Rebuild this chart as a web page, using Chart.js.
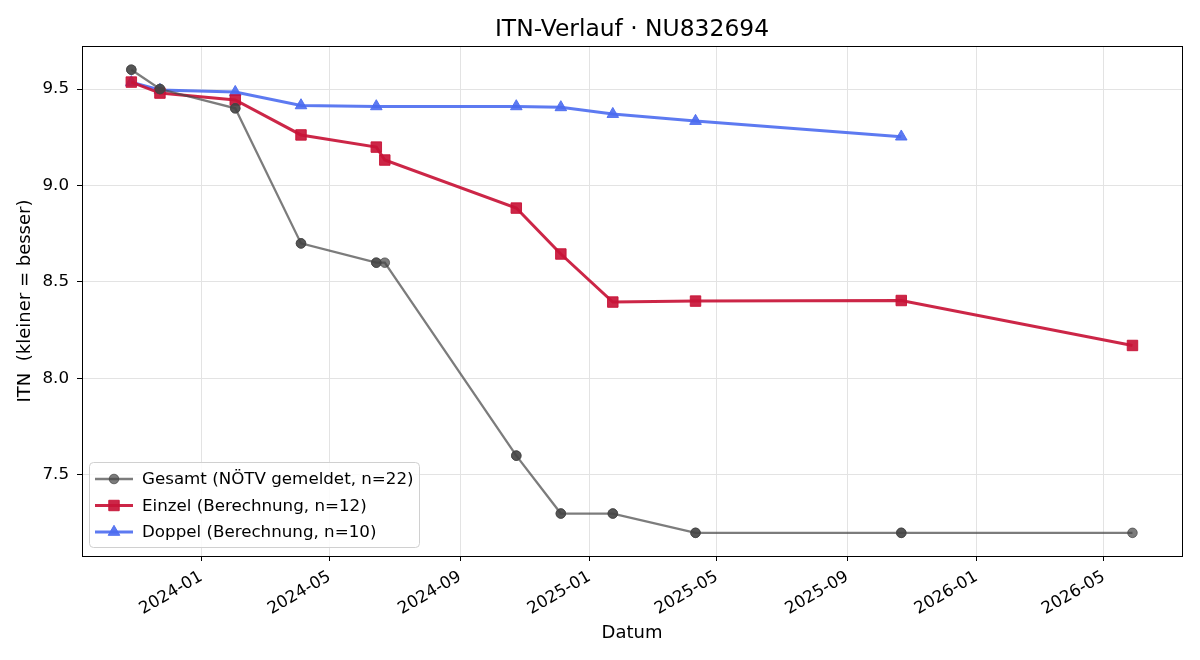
<!DOCTYPE html>
<html>
<head>
<meta charset="utf-8">
<script src="https://cdn.jsdelivr.net/npm/chart.js@4.4.1/dist/chart.umd.min.js"></script>
<style>
  html, body { margin: 0; padding: 0; background: #fff; }
</style>
</head>
<body>
<canvas id="chart" width="1200" height="660"></canvas>
<script>
// data
const gesamtDates = ['2023-10-27', '2023-10-27', '2023-11-23', '2023-11-23', '2024-02-02', '2024-02-02',
    '2024-04-04', '2024-04-04', '2024-06-14', '2024-06-14', '2024-06-22', '2024-10-24', '2024-10-24',
    '2024-12-05', '2024-12-05', '2025-01-23', '2025-01-23', '2025-04-11', '2025-04-11',
    '2025-10-22', '2025-10-22', '2026-05-28'];
const gesamtValues = [9.6, 9.6, 9.5, 9.5, 9.4, 9.4, 8.7, 8.7, 8.6, 8.6, 8.6, 7.6, 7.6,
    7.3, 7.3, 7.3, 7.3, 7.2, 7.2, 7.2, 7.2, 7.2];

const einzelDates = ['2023-10-27', '2023-11-23', '2024-02-02', '2024-04-04', '2024-06-14', '2024-06-22',
    '2024-10-24', '2024-12-05', '2025-01-23', '2025-04-11', '2025-10-22', '2026-05-28'];
const einzelValues = [9.536, 9.479, 9.443, 9.262, 9.199, 9.132, 8.883, 8.645, 8.396, 8.401, 8.404, 8.171];

const doppelDates = ['2023-10-27', '2023-11-23', '2024-02-02', '2024-04-04', '2024-06-14',
    '2024-10-24', '2024-12-05', '2025-01-23', '2025-04-11', '2025-10-22'];
const doppelValues = [9.535, 9.495, 9.484, 9.415, 9.41, 9.41, 9.405, 9.37, 9.334, 9.253];

const seriesLabels = ['Gesamt (NÖTV gemeldet, n=22)', 'Einzel (Berechnung, n=12)', 'Doppel (Berechnung, n=10)'];
const xTickLabels = ['2024-01', '2024-05', '2024-09', '2025-01', '2025-05', '2025-09', '2026-01', '2026-05'];
const yTickValues = [7.5, 8.0, 8.5, 9.0, 9.5];

const FONT = "'DejaVu Sans', sans-serif";
const BASE = Date.UTC(2024, 0, 1);

// days since 2024-01-01
const dayNum = (s) => {
    const p = s.split('-').map(Number);
    return (Date.UTC(p[0], p[1] - 1, p[2] || 1) - BASE) / 86400000;
};
const toPoints = (dates, values) => dates.map((d, i) => ({ x: dayNum(d), y: values[i] }));

const xTickPos = xTickLabels.map(l => dayNum(l));

// legend drawn inside the plot, lower left
const innerLegend = {
    id: 'innerLegend',
    afterDraw(chart) {
        const ctx = chart.ctx;
        const area = chart.chartArea;
        const x0 = area.left + 7, y0 = area.bottom - 94, w = 330, h = 85;
        ctx.save();
        ctx.fillStyle = 'rgba(255,255,255,0.85)';
        ctx.strokeStyle = '#d0d0d0';
        ctx.lineWidth = 1;
        ctx.beginPath();
        ctx.roundRect(x0 + 0.5, y0 + 0.5, w, h, 4);
        ctx.fill();
        ctx.stroke();
        ctx.font = '16.7px ' + FONT;
        ctx.textBaseline = 'middle';
        chart.data.datasets.forEach((ds, i) => {
            const cy = y0 + 17 + i * 26.5;
            ctx.strokeStyle = ds.borderColor;
            ctx.lineWidth = ds.borderWidth;
            ctx.beginPath();
            ctx.moveTo(x0 + 6, cy);
            ctx.lineTo(x0 + 44, cy);
            ctx.stroke();
            ctx.fillStyle = ds.pointBackgroundColor;
            ctx.strokeStyle = ds.pointBackgroundColor;
            ctx.lineWidth = 1;
            Chart.helpers.drawPoint(ctx, { pointStyle: ds.pointStyle, radius: ds.pointRadius, borderWidth: 1 }, x0 + 25, cy);
            ctx.fillStyle = '#000';
            ctx.fillText(ds.label, x0 + 53, cy + 1);
        });
        ctx.restore();
    }
};

// all four spines
const frame = {
    id: 'frame',
    afterDatasetsDraw(chart) {
        const a = chart.chartArea;
        const ctx = chart.ctx;
        ctx.save();
        ctx.strokeStyle = '#000';
        ctx.lineWidth = 1;
        ctx.strokeRect(Math.round(a.left) + 0.5, Math.round(a.top) + 0.5,
            Math.round(a.right - a.left), Math.round(a.bottom - a.top));
        ctx.restore();
    }
};

new Chart(document.getElementById('chart'), {
    type: 'line',
    data: {
        datasets: [
            {
                label: seriesLabels[0],
                data: toPoints(gesamtDates, gesamtValues),
                borderColor: 'rgba(68,68,68,0.7)',
                backgroundColor: 'rgba(68,68,68,0.7)',
                pointBackgroundColor: 'rgba(68,68,68,0.7)',
                pointBorderColor: 'rgba(68,68,68,0.7)',
                borderWidth: 2.3,
                pointStyle: 'circle',
                pointRadius: 4.8,
                pointBorderWidth: 1
            },
            {
                label: seriesLabels[1],
                data: toPoints(einzelDates, einzelValues),
                borderColor: 'rgba(200,20,55,0.92)',
                backgroundColor: 'rgba(200,20,55,0.92)',
                pointBackgroundColor: 'rgba(200,20,55,0.92)',
                pointBorderColor: 'rgba(200,20,55,0.92)',
                borderWidth: 3,
                pointStyle: 'rect',
                pointRadius: 7.4,
                pointBorderWidth: 1
            },
            {
                label: seriesLabels[2],
                data: toPoints(doppelDates, doppelValues),
                borderColor: 'rgba(75,108,240,0.9)',
                backgroundColor: 'rgba(75,108,240,0.9)',
                pointBackgroundColor: 'rgba(75,108,240,0.9)',
                pointBorderColor: 'rgba(75,108,240,0.9)',
                borderWidth: 3,
                pointStyle: 'triangle',
                pointRadius: 6.7,
                pointBorderWidth: 1
            }
        ]
    },
    options: {
        responsive: false,
        animation: false,
        devicePixelRatio: 1,
        layout: { padding: { left: 0, right: 18, top: 0, bottom: 0 } },
        plugins: {
            legend: { display: false },
            tooltip: { enabled: false },
            title: {
                display: true,
                fullSize: false,
                text: 'ITN-Verlauf · NU832694',
                color: '#000',
                font: { family: FONT, size: 23.4, weight: 'normal', lineHeight: 1.2 },
                padding: { top: 16, bottom: 1.9 }
            }
        },
        scales: {
            x: {
                type: 'linear',
                min: -112.5,
                max: 924.7,
                afterBuildTicks: (scale) => { scale.ticks = xTickPos.map(v => ({ value: v })); },
                afterFit: (scale) => { scale.height = 104; },
                ticks: {
                    autoSkip: false,
                    minRotation: 30,
                    maxRotation: 30,
                    padding: 6,
                    color: '#000',
                    font: { family: FONT, size: 16.7 },
                    callback: (v) => xTickLabels[xTickPos.indexOf(v)]
                },
                grid: { color: '#e3e3e3', tickColor: '#000', tickLength: 5 },
                border: { display: false },
                title: {
                    display: true,
                    text: 'Datum',
                    color: '#000',
                    font: { family: FONT, size: 18 },
                    padding: { top: 0, bottom: 16 }
                }
            },
            y: {
                min: 7.08,
                max: 9.723,
                afterBuildTicks: (scale) => { scale.ticks = yTickValues.map(v => ({ value: v })); },
                afterFit: (scale) => { scale.width = 82; },
                ticks: {
                    padding: 8,
                    color: '#000',
                    font: { family: FONT, size: 16.7 },
                    callback: (v) => v.toFixed(1)
                },
                grid: { color: '#e3e3e3', tickColor: '#000', tickLength: 5 },
                border: { display: false },
                title: {
                    display: true,
                    text: 'ITN  (kleiner = besser)',
                    color: '#000',
                    font: { family: FONT, size: 18 },
                    padding: { top: 15, bottom: 0 }
                }
            }
        }
    },
    plugins: [innerLegend, frame]
});
</script>
</body>
</html>
